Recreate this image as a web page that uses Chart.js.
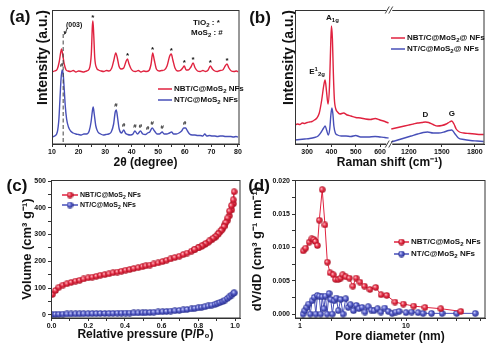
<!DOCTYPE html>
<html>
<head>
<meta charset="utf-8">
<title>NBT/C@MoS2 NFs</title>
<script src="https://cdn.jsdelivr.net/npm/chart.js@4.4.1/dist/chart.umd.min.js"></script>
<style>
  html, body { margin: 0; padding: 0; background: #fff; }
  #wrap { position: relative; width: 496px; height: 350px; overflow: hidden; }
  canvas { position: absolute; }
</style>
</head>
<body>
<div id="wrap">
  <canvas id="xrd" width="248" height="172" style="left:0;top:0"></canvas>
  <canvas id="raman" width="248" height="172" style="left:248px;top:0"></canvas>
  <canvas id="bet" width="248" height="178" style="left:0;top:172px"></canvas>
  <canvas id="pore" width="248" height="178" style="left:248px;top:172px"></canvas>
</div>
<script>
// series names
const seriesNames = ['NBT/C@MoS₂ NFs', 'NT/C@MoS₂ NFs'];
const ramanNames = ['NBT/C@MoS₂@ NFs', 'NT/C@MoS₂@ NFs'];

// (a) XRD, 2theta vs intensity (a.u.)
const xrdNBT = [[10,72],[11,73],[12,75],[12.7,82],[13.3,92],[13.6,95],[14.0,90],[14.6,80],[15.3,74],[16,73],[17,72.5],[18,73.5],[19,72],[20,73],[21,72.5],[22,72],[23,73],[24,75],[24.8,90],[25.2,118],[25.4,123],[25.7,110],[26.1,86],[26.8,76],[27.5,74],[28.5,73],[29.5,72.5],[30.5,73.5],[31.5,73],[32.5,76],[33.3,84],[34.0,91],[34.6,86],[35.2,78],[36,75],[37,76],[37.8,82],[38.4,85],[39,80],[39.8,75],[40.5,73],[41.5,72.5],[42.5,73.5],[43.5,72],[44.5,73],[45.5,72.5],[46.5,73.5],[47.3,80],[47.9,91],[48.5,84],[49.3,75],[50.3,73],[51.3,73.5],[52.3,74],[53.3,78],[54.3,88],[54.9,90],[55.5,84],[56.3,76],[57.3,73],[58.3,73.5],[59.2,76],[59.8,78],[60.5,74],[61.3,74],[62.3,77],[63.1,81],[63.9,76],[64.8,73],[65.8,72.5],[66.8,73.5],[67.8,72.5],[68.8,74],[69.6,78],[70.4,75],[71.3,73],[72.3,72.5],[73.3,73.5],[74.3,74],[75.2,78],[75.9,80],[76.6,76],[77.5,73],[78.5,72.5],[79.5,73],[80,72]];
const xrdNT = [[10,7],[11,8],[12,12],[12.6,25],[13.0,45],[13.4,65],[13.8,74],[14.2,70],[14.6,55],[15.0,38],[15.5,25],[16.2,17],[17,13],[18,11],[19,10],[20,9.5],[21,9],[22,10],[23,10],[24,13],[24.7,22],[25.2,33],[25.5,37],[25.9,30],[26.5,18],[27.3,12],[28.3,10],[29.3,9],[30.3,9.5],[31.3,10],[32.3,12],[33.2,20],[33.8,32],[34.2,34],[34.7,26],[35.3,15],[36.2,11],[37.0,14],[37.6,11],[38.5,9.5],[39.5,9],[40.5,10],[41.2,13],[42.2,10],[43.3,13],[44.2,10],[45.2,9.5],[46.0,11],[46.8,12],[47.7,16],[48.6,13],[49.5,10],[50.4,10],[51.5,12],[52.2,10],[53.2,10],[54.2,11],[55.0,12],[55.8,10],[56.8,10],[57.8,11],[58.8,13],[59.6,16],[60.3,16],[61.0,13],[61.8,10],[62.8,9],[63.8,9],[64.8,8.5],[65.8,8.5],[66.8,8],[67.5,10],[68.3,8],[69.3,8.5],[70.3,8],[71.3,8],[72.3,7.5],[73.3,8],[74.3,8],[75.3,7.5],[76.3,7.5],[77.3,7.5],[78.3,7],[79.3,7.5],[80,7]];
const xrdTicks = [10, 15, 20, 25, 30, 35, 40, 45, 50, 55, 60, 65, 70, 75, 80];
const tio2Peaks = [25.4, 38.4, 47.9, 54.9, 59.8, 63.1, 69.6, 75.9];
const mos2Peaks = [13.6, 34.1, 37.0, 41.2, 43.3, 46.0, 47.7, 51.5, 59.9];
const layerPeak = 14.2; // (003)

// (b) Raman shift (cm-1) vs intensity, null = axis break
const ramanNBT = [[250,19],[260,20],[270,19.5],[280,21],[290,20.5],[300,21.5],[310,22],[320,22.5],[330,24],[340,26],[350,31],[360,44],[368,58],[374,64],[380,52],[386,40],[392,58],[397,100],[400,118],[404,105],[408,70],[412,45],[418,35],[425,32],[435,30],[450,31],[465,29],[480,28],[500,26.5],[520,26],[540,25],[560,24.5],[580,25.5],[600,24],[620,22.5],[635,21],[800,null],[1040,15],[1080,16],[1120,17],[1160,18],[1200,19],[1240,20],[1280,21],[1320,21.5],[1350,22],[1380,21.5],[1420,19.5],[1460,18],[1500,18.5],[1540,20],[1570,22],[1590,23],[1610,20],[1630,15],[1660,12],[1700,11],[1750,10.5],[1800,10],[1850,9.5],[1880,9.5]];
const ramanNT = [[250,4],[270,4.5],[290,5],[310,5.5],[330,6.5],[345,8],[358,12],[368,16],[374,18],[380,14],[387,9],[393,15],[398,30],[402,36],[406,30],[410,18],[416,11],[425,9],[440,8],[460,8],[480,7.5],[500,8.5],[520,7],[550,7],[580,7.5],[600,7],[620,6.5],[635,6],[800,null],[1040,2],[1100,4],[1160,6],[1220,8],[1280,10],[1330,11.5],[1370,12],[1420,11],[1470,11],[1520,12],[1560,13.5],[1590,14],[1620,10],[1650,6],[1700,4.5],[1760,3.5],[1820,3],[1880,2.5]];
const ramanTicks = [300, 400, 500, 600, 1200, 1500, 1800];
const ramanBands = [['D', 1350], ['G', 1590]];

// (c) N2 isotherm, P/P0 vs volume
const betNBT = [[0.004,76],[0.022,91],[0.040,103],[0.062,111],[0.084,116],[0.107,121],[0.131,126],[0.153,129],[0.175,134],[0.199,138],[0.222,141],[0.244,144],[0.266,148],[0.290,150],[0.313,153],[0.335,157],[0.359,160],[0.381,163],[0.404,167],[0.426,169],[0.448,173],[0.472,176],[0.496,180],[0.514,183],[0.536,186],[0.557,190],[0.581,194],[0.605,199],[0.627,204],[0.649,209],[0.672,214],[0.696,219],[0.718,225],[0.739,231],[0.763,238],[0.781,244],[0.800,250],[0.818,256],[0.836,263],[0.854,271],[0.873,280],[0.891,290],[0.903,299],[0.918,310],[0.933,322],[0.945,336],[0.958,352],[0.969,370],[0.982,392],[0.991,415],[0.995,460],[0.990,430],[0.980,408],[0.970,388],[0.960,362],[0.950,345],[0.940,330],[0.925,315],[0.910,303],[0.895,293],[0.880,286],[0.860,276],[0.840,266],[0.820,258],[0.800,251],[0.780,245]];
const betNT = [[0.004,1],[0.022,1.5],[0.040,2],[0.062,2.5],[0.084,3],[0.107,3],[0.131,3.5],[0.153,3.5],[0.175,4],[0.199,4],[0.222,4.5],[0.244,4.5],[0.266,5],[0.290,5],[0.313,5.5],[0.335,5.5],[0.359,6],[0.381,6],[0.404,6.5],[0.426,6.5],[0.448,7],[0.472,7],[0.496,7.5],[0.514,8],[0.536,8.5],[0.557,9.5],[0.581,10.5],[0.605,11.5],[0.627,12.5],[0.649,14],[0.672,15],[0.696,16.5],[0.718,18],[0.739,20],[0.763,22],[0.781,24],[0.800,26],[0.818,28],[0.836,30],[0.854,33],[0.873,36],[0.891,39],[0.903,42],[0.918,46],[0.933,50],[0.945,55],[0.958,61],[0.969,67],[0.982,74],[0.991,80],[0.995,82]];
const betTicksX = [0, 0.1, 0.2, 0.3, 0.4, 0.5, 0.6, 0.7, 0.8, 0.9, 1.0];
const betTicksY = [0, 50, 100, 150, 200, 250, 300, 350, 400, 450, 500];

// (d) pore size distribution, nm vs dV/dD
const poreNBT = [[1.074,0.0095],[1.13,0.0099],[1.22,0.0108],[1.29,0.0113],[1.355,0.0112],[1.40,0.0109],[1.46,0.0103],[1.52,0.0141],[1.62,0.0187],[1.72,0.0134],[1.81,0.0078],[1.92,0.0062],[2.06,0.0059],[2.17,0.0052],[2.30,0.0052],[2.42,0.0054],[2.53,0.0059],[2.70,0.0056],[2.92,0.0054],[3.15,0.0042],[3.38,0.0054],[3.68,0.0048],[4.05,0.0042],[4.57,0.0037],[5.18,0.0040],[5.81,0.0029],[6.58,0.0028],[7.87,0.0018],[9.44,0.0015],[11.8,0.0012],[15.1,0.0010],[21.3,0.0008],[32.9,0.0004]];
const poreNT = [[1.07,0.0000],[1.11,0.0005],[1.16,0.0010],[1.21,0.0015],[1.25,0.0000],[1.30,0.0020],[1.36,0.0025],[1.41,0.0000],[1.46,0.0028],[1.52,0.0027],[1.57,0.0000],[1.62,0.0026],[1.68,0.0008],[1.74,0.0027],[1.80,0.0000],[1.88,0.0031],[1.95,0.0022],[2.02,0.0000],[2.10,0.0020],[2.20,0.0024],[2.30,0.0005],[2.42,0.0022],[2.55,0.0000],[2.70,0.0023],[2.85,0.0010],[3.00,0.0014],[3.20,0.0005],[3.40,0.0013],[3.60,0.0008],[3.85,0.0010],[4.10,0.0003],[4.40,0.0011],[4.70,0.0006],[5.00,0.0005],[5.40,0.0008],[5.80,0.0003],[6.30,0.0009],[6.80,0.0004],[7.40,0.0001],[8.00,0.0003],[8.60,0.0004],[10.0,0.0002],[11.3,0.0003],[13.0,0.0002],[14.5,0.0001],[17.4,0.0001],[21.9,0.0001],[30.1,0.0001],[45.0,0.0001]];
const poreTicksX = [1, 2, 3, 4, 5, 6, 7, 8, 9, 10, 20, 30, 40, 50];
const poreTicksY = [0, 0.0025, 0.005, 0.0075, 0.01, 0.0125, 0.015, 0.0175, 0.02];

const RED = '#e0223f';
const BLUE = '#474fb8';
const INK = '#111';
const FAMILY = '"Liberation Sans", Arial, sans-serif';

Chart.defaults.font.family = FAMILY;
Chart.defaults.font.size = 7;
Chart.defaults.font.weight = 'bold';
Chart.defaults.color = INK;
Chart.defaults.animation = false;

// raman axis is broken between ~640 and ~1037 cm-1
const toAxis = s => s <= 700 ? s : 645 + (s - 1037) * 0.4527;
const fromAxis = t => t <= 641 ? t : 1037 + (t - 645) / 0.4527;

const xy = arr => arr.map(([x, y]) => ({x: x, y: y}));

// unicode sub/superscripts -> small text runs
const SUB = '₀₁₂₃₄₅₆₇₈₉', SUP = '⁰¹²³⁴⁵⁶⁷⁸⁹';
function parts(str) {
  const out = [];
  for (const ch of str) {
    let mode = 'n', c = ch;
    const i = SUB.indexOf(ch), j = SUP.indexOf(ch);
    if (i >= 0) { mode = 'sub'; c = String(i); }
    else if (j >= 0) { mode = 'sup'; c = String(j); }
    else if (ch === '⁻') { mode = 'sup'; c = '-'; }
    const last = out[out.length - 1];
    if (last && last[1] === mode) last[0] += c; else out.push([c, mode]);
  }
  return out;
}

function rich(ctx, segs, x, y, size, align) {
  const fontOf = m => 'bold ' + (m === 'n' ? size : Math.round(size * 0.7)) + 'px ' + FAMILY;
  let w = 0;
  for (const [s, m] of segs) { ctx.font = fontOf(m); w += ctx.measureText(s).width; }
  let cx = align === 'center' ? x - w / 2 : align === 'right' ? x - w : x;
  ctx.textAlign = 'left';
  ctx.textBaseline = 'middle';
  for (const [s, m] of segs) {
    ctx.font = fontOf(m);
    const dy = m === 'sub' ? size * 0.32 : m === 'sup' ? -size * 0.35 : 0;
    ctx.fillText(s, cx, y + dy);
    cx += ctx.measureText(s).width;
  }
}

function ball(hi, mid, edge) {
  const cv = document.createElement('canvas');
  cv.width = cv.height = 7;
  const g = cv.getContext('2d');
  const gr = g.createRadialGradient(2.5, 2.5, 0.2, 3.5, 3.5, 3.5);
  gr.addColorStop(0, hi);
  gr.addColorStop(0.5, mid);
  gr.addColorStop(1, edge);
  g.fillStyle = gr;
  g.beginPath();
  g.arc(3.5, 3.5, 3.2, 0, Math.PI * 2);
  g.fill();
  return cv;
}
const redBall = ball('#ffc2c8', '#e3253f', '#a0101f');
const blueBall = ball('#d0d4ff', '#4d55c4', '#262c85');

function legendRow(ctx, x1, x2, y, color, label, size, marker) {
  ctx.strokeStyle = color;
  ctx.lineWidth = 1.5;
  ctx.beginPath(); ctx.moveTo(x1, y); ctx.lineTo(x2, y); ctx.stroke();
  if (marker) ctx.drawImage(marker, (x1 + x2) / 2 - 3.5, y - 3.5);
  ctx.fillStyle = INK;
  rich(ctx, parts(label), x2 + 2, y, size, 'left');
}

function letter(ctx, txt, x, y) {
  ctx.fillStyle = INK;
  rich(ctx, [[txt, 'n']], x, y, 17, 'center');
}

function peakNear(arr, p) {
  let best = 0;
  arr.forEach(([x, y]) => { if (Math.abs(x - p) < 0.7 && y > best) best = y; });
  return best;
}

function axis(o) {
  return {
    type: o.type || 'linear',
    min: o.min,
    max: o.max,
    border: {display: true, color: '#333', width: 1},
    grid: {display: o.noTicks ? false : true, drawOnChartArea: false, drawTicks: true, tickLength: 3, color: '#333'},
    ticks: {display: !o.noTicks, padding: o.pad == null ? 1 : o.pad, autoSkip: false, maxRotation: 0,
            callback: o.label || (v => v)},
    title: {display: true, text: o.title, align: o.align || 'center', color: INK,
            font: {size: o.tsize || 12, weight: 'bold'}, padding: o.tpad || 0},
    afterBuildTicks: o.values ? s => { s.ticks = o.values.map(v => ({value: v})); } : undefined,
    afterFit: s => {
      if (o.width != null) s.width = o.width;
      if (o.height != null) s.height = o.height;
    }
  };
}

const frame = {
  id: 'frame',
  afterDraw(chart) {
    const {ctx, chartArea: a} = chart;
    ctx.save();
    ctx.strokeStyle = '#333';
    ctx.lineWidth = 1;
    const l = Math.round(a.left) + 0.5, t = Math.round(a.top) + 0.5;
    ctx.strokeRect(l, t, Math.round(a.right) - l, Math.round(a.bottom) - t);
    ctx.restore();
  }
};

// (a) XRD
new Chart(document.getElementById('xrd'), {
  type: 'line',
  data: {
    datasets: [
      {label: seriesNames[0], data: xy(xrdNBT), borderColor: RED, borderWidth: 1.4, pointRadius: 0, cubicInterpolationMode: 'monotone'},
      {label: seriesNames[1], data: xy(xrdNT), borderColor: BLUE, borderWidth: 1.4, pointRadius: 0, cubicInterpolationMode: 'monotone'}
    ]
  },
  options: {
    responsive: false,
    events: [],
    layout: {padding: {left: 35, top: 10, right: 9, bottom: 0}},
    plugins: {legend: {display: false}, tooltip: {enabled: false}},
    scales: {
      x: axis({min: 10, max: 80.4, values: xrdTicks, label: v => v % 10 === 0 ? v : '',
               title: '2θ (degree)', height: 28, tpad: 2}),
      y: axis({min: 0, max: 134, noTicks: true, title: 'Intensity (a.u.)', align: 'end', tsize: 14, width: 17})
    }
  },
  plugins: [frame, {
    id: 'xrdMarks',
    afterDraw(chart) {
      const {ctx, scales: {x, y}, chartArea: a} = chart;
      ctx.save();
      const gx = x.getPixelForValue(layerPeak);
      ctx.strokeStyle = '#444';
      ctx.lineWidth = 1;
      ctx.setLineDash([4, 2.5]);
      ctx.beginPath(); ctx.moveTo(gx, a.top + 24); ctx.lineTo(gx, a.bottom); ctx.stroke();
      ctx.setLineDash([]);
      ctx.beginPath(); ctx.moveTo(gx + 4, a.top + 18); ctx.lineTo(gx + 2, a.top + 24); ctx.stroke();
      ctx.fillStyle = '#333';
      ctx.beginPath(); ctx.moveTo(gx + 1, a.top + 25); ctx.lineTo(gx + 0.5, a.top + 21); ctx.lineTo(gx + 3.5, a.top + 22); ctx.fill();
      ctx.fillStyle = INK;
      rich(ctx, parts('(003)'), gx + 11, a.top + 15, 7, 'center');
      ctx.font = 'bold 8px ' + FAMILY;
      ctx.textAlign = 'center';
      ctx.textBaseline = 'middle';
      tio2Peaks.forEach(p => ctx.fillText('*', x.getPixelForValue(p), y.getPixelForValue(peakNear(xrdNBT, p)) - 3));
      ctx.font = 'bold 6px ' + FAMILY;
      mos2Peaks.forEach(p => ctx.fillText('#', x.getPixelForValue(p), y.getPixelForValue(peakNear(xrdNT, p)) - 5));
      rich(ctx, parts('TiO₂ : *'), 193, 23, 8, 'left');
      rich(ctx, parts('MoS₂ : #'), 191, 33, 8, 'left');
      legendRow(ctx, 158, 172, 89, RED, seriesNames[0], 8);
      legendRow(ctx, 158, 172, 100, BLUE, seriesNames[1], 8);
      letter(ctx, '(a)', 20, 17);
      ctx.restore();
    }
  }]
});

// (b) Raman
new Chart(document.getElementById('raman'), {
  type: 'line',
  data: {
    datasets: [
      {label: ramanNames[0], data: ramanNBT.map(([s, v]) => ({x: toAxis(s), y: v})), borderColor: RED, borderWidth: 1.4, pointRadius: 0, cubicInterpolationMode: 'monotone', spanGaps: false},
      {label: ramanNames[1], data: ramanNT.map(([s, v]) => ({x: toAxis(s), y: v})), borderColor: BLUE, borderWidth: 1.4, pointRadius: 0, cubicInterpolationMode: 'monotone', spanGaps: false}
    ]
  },
  options: {
    responsive: false,
    events: [],
    layout: {padding: {left: 33, top: 10, right: 12, bottom: 0}},
    plugins: {legend: {display: false}, tooltip: {enabled: false}},
    scales: {
      x: axis({min: 250, max: 1028, values: ramanTicks.map(toAxis), label: v => Math.round(fromAxis(v) / 10) * 10,
               title: 'Raman shift (cm⁻¹)', height: 28, tpad: 2}),
      y: axis({min: 0, max: 134, noTicks: true, title: 'Intensity (a.u.)', align: 'end', tsize: 14, width: 14})
    }
  },
  plugins: [frame, {
    id: 'ramanMarks',
    afterDraw(chart) {
      const {ctx, scales: {x, y}, chartArea: a} = chart;
      ctx.save();
      ctx.fillStyle = INK;
      const pA = x.getPixelForValue(400), yA = y.getPixelForValue(peakNear(ramanNBT, 400));
      rich(ctx, [['A', 'n'], ['1g', 'sub']], pA + 1, yA - 8, 8, 'center');
      const pE = x.getPixelForValue(374), yE = y.getPixelForValue(peakNear(ramanNBT, 374));
      rich(ctx, [['E', 'n'], ['1', 'sup'], ['2g', 'sub']], pE - 8, yE - 8, 8, 'center');
      ramanBands.forEach(([name, s]) => {
        const v = ramanNBT.filter(p => p[1] != null && Math.abs(p[0] - s) <= 20).reduce((m, p) => Math.max(m, p[1]), 0);
        rich(ctx, [[name, 'n']], x.getPixelForValue(toAxis(s)), y.getPixelForValue(v) - 7, 8, 'center');
      });
      // axis break marks
      const bx = x.getPixelForValue(638);
      [a.top, a.bottom].forEach(yy => {
        ctx.fillStyle = '#fff';
        ctx.fillRect(bx - 3, yy - 2, 6, 4);
        ctx.strokeStyle = '#333';
        ctx.lineWidth = 0.9;
        [-2, 1.5].forEach(off => {
          ctx.beginPath(); ctx.moveTo(bx + off - 2, yy + 3.5); ctx.lineTo(bx + off + 2, yy - 3.5); ctx.stroke();
        });
      });
      legendRow(ctx, 143, 157, 38, RED, ramanNames[0], 8);
      legendRow(ctx, 143, 157, 49, BLUE, ramanNames[1], 8);
      letter(ctx, '(b)', 12, 18);
      ctx.restore();
    }
  }]
});

// (c) isotherm
new Chart(document.getElementById('bet'), {
  type: 'line',
  data: {
    datasets: [
      {label: seriesNames[0], data: xy(betNBT), borderColor: RED, borderWidth: 1, pointStyle: redBall, pointRadius: 3},
      {label: seriesNames[1], data: xy(betNT), borderColor: BLUE, borderWidth: 1, pointStyle: blueBall, pointRadius: 3}
    ]
  },
  options: {
    responsive: false,
    events: [],
    layout: {padding: {left: 20, top: 8, right: 8, bottom: 0}},
    plugins: {legend: {display: false}, tooltip: {enabled: false}},
    scales: {
      x: axis({min: -0.003, max: 1.027, values: betTicksX, label: (v, i) => i % 2 === 0 ? v.toFixed(1) : '',
               title: 'Relative pressure (P/P₀)', height: 32, tpad: 8}),
      y: axis({min: -12, max: 504, values: betTicksY, label: v => v % 100 === 0 ? v : '', pad: 2,
               title: 'Volume (cm³ g⁻¹)', tsize: 13, width: 31})
    }
  },
  plugins: [frame, {
    id: 'betMarks',
    afterDraw(chart) {
      const {ctx} = chart;
      ctx.save();
      legendRow(ctx, 62, 78, 23, RED, seriesNames[0], 7, redBall);
      legendRow(ctx, 62, 78, 33, BLUE, seriesNames[1], 7, blueBall);
      letter(ctx, '(c)', 17, 14);
      ctx.restore();
    }
  }]
});

// (d) pore size distribution
new Chart(document.getElementById('pore'), {
  type: 'line',
  data: {
    datasets: [
      {label: seriesNames[0], data: xy(poreNBT), borderColor: RED, borderWidth: 1, pointStyle: redBall, pointRadius: 3},
      {label: seriesNames[1], data: xy(poreNT), borderColor: BLUE, borderWidth: 1, pointStyle: blueBall, pointRadius: 3}
    ]
  },
  options: {
    responsive: false,
    events: [],
    layout: {padding: {left: 2, top: 8, right: 11, bottom: 0}},
    plugins: {legend: {display: false}, tooltip: {enabled: false}},
    scales: {
      x: axis({type: 'logarithmic', min: 0.897, max: 55.6, values: poreTicksX, label: v => (v === 1 || v === 10) ? v : '',
               title: 'Pore diameter (nm)', height: 32, tpad: 6}),
      y: axis({min: -0.0006, max: 0.02015, values: poreTicksY, label: (v, i) => i % 2 === 0 ? v.toFixed(3) : '', pad: 2,
               title: 'dV/dD (cm³ g⁻¹ nm⁻¹)', tsize: 13, width: 45})
    }
  },
  plugins: [frame, {
    id: 'poreMarks',
    afterDraw(chart) {
      const {ctx} = chart;
      ctx.save();
      legendRow(ctx, 146, 161, 70, RED, seriesNames[0], 8, redBall);
      legendRow(ctx, 146, 161, 82, BLUE, seriesNames[1], 8, blueBall);
      letter(ctx, '(d)', 11, 14);
      ctx.restore();
    }
  }]
});
</script>
</body>
</html>
